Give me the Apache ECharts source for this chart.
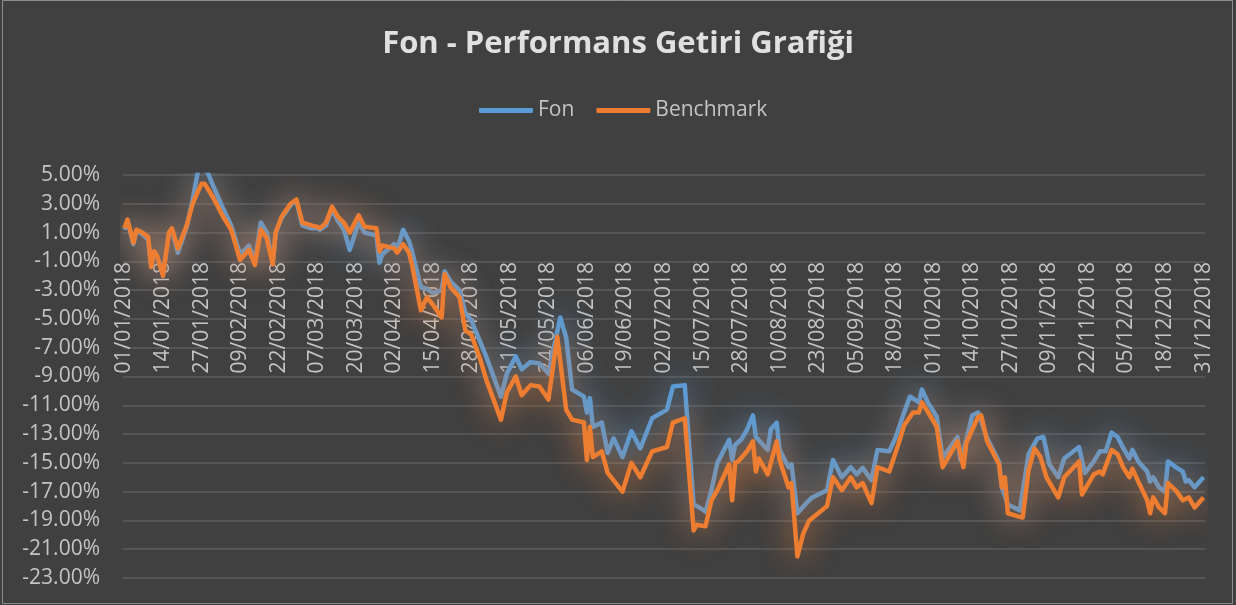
<!DOCTYPE html>
<html>
<head>
<meta charset="utf-8">
<script src="https://cdn.jsdelivr.net/npm/echarts@6/dist/echarts.min.js"></script>
<style>
html,body{margin:0;padding:0;background:#404040;}
#chart{width:1236px;height:605px;}
</style>
</head>
<body>
<div id="chart"></div>
<script>
// ---- data ----
const chartTitle = 'Fon - Performans Getiri Grafiği';
const seriesNames = ['Fon', 'Benchmark'];
// y-axis ticks (percent)
const yMin = -23, yMax = 5, yStep = 2;
// day-of-year index (0 = 01/01/2018) for each read point
const fonDays = [0,1,3,4,6,8,9,10,11,13,15,16,18,21,23,25,28,30,33,36,39,42,44,46,48,50,51,53,56,58,60,63,65,66,68,70,72,74,76,79,81,85,86,87,91,92,94,96,97,100,102,104,107,108,110,113,115,117,120,122,127,129,132,134,137,140,143,147,149,151,155,156,157,158,161,163,165,168,171,174,178,183,185,189,192,194,196,198,200,204,205,206,208,210,212,213,217,218,220,221,224,225,227,230,232,237,239,242,245,247,249,252,254,258,260,263,265,268,269,271,274,276,281,282,284,286,288,291,295,296,298,302,305,308,310,312,315,317,322,324,327,329,331,333,335,337,339,340,342,345,346,347,349,351,352,355,357,358,359,361,364];
const fonValues = [1.2,1.8,0.2,1.1,0.9,0.5,-1.3,-0.4,-0.7,-1.8,0.9,1.2,-0.4,1.4,3.3,5.5,5.2,4.2,2.8,1.5,-0.5,0.1,-1.0,1.7,1.0,-1.1,1.0,2.0,2.9,3.2,1.5,1.3,1.3,1.2,1.5,2.6,1.8,1.2,-0.2,1.7,1.0,0.8,-1.1,-0.5,0.2,-0.2,1.2,0.4,-0.3,-2.8,-2.9,-3.2,-3.0,-1.7,-2.4,-3.0,-4.6,-5.1,-6.6,-7.6,-10.4,-8.8,-7.6,-8.5,-8.0,-8.1,-8.8,-4.9,-6.3,-9.9,-10.4,-11.5,-10.5,-12.5,-12.2,-14.3,-13.3,-14.6,-12.8,-14.0,-11.9,-11.3,-9.7,-9.6,-17.9,-18.1,-18.4,-16.9,-15.0,-13.4,-14.8,-13.75,-13.4,-12.7,-11.7,-13.2,-14.1,-12.7,-12.2,-14.1,-15.3,-15.1,-18.5,-17.8,-17.4,-16.9,-14.8,-16.0,-15.3,-15.8,-15.35,-16.2,-14.1,-14.2,-13.3,-11.5,-10.4,-10.8,-9.9,-10.8,-11.8,-14.65,-13.2,-14.8,-13.4,-11.7,-11.5,-13.3,-14.9,-16.7,-17.9,-18.3,-14.4,-13.3,-13.2,-15.1,-16.0,-14.7,-13.9,-15.7,-14.9,-14.2,-14.2,-12.9,-13.2,-14.0,-14.7,-14.1,-14.9,-15.6,-16.3,-16.0,-16.7,-17.0,-14.9,-15.35,-15.6,-16.3,-16.2,-16.7,-16.0];
const benchDays = [0,1,3,4,6,8,9,10,11,13,15,16,18,21,23,24,26,27,30,33,36,39,42,44,46,48,50,51,53,56,58,60,63,65,66,68,70,72,74,76,79,81,85,86,87,91,92,94,96,97,100,102,104,107,108,110,113,115,117,120,122,127,129,132,134,137,140,143,146,149,151,155,156,157,158,161,163,168,171,174,178,183,185,189,192,193,196,198,200,204,205,206,207,210,212,213,214,217,220,221,224,225,227,229,231,237,239,242,245,247,249,252,254,258,261,263,266,268,269,272,274,276,281,283,284,288,289,291,295,296,297,298,302,303,305,307,309,311,315,317,322,323,325,327,329,330,333,335,337,339,340,342,345,346,347,349,351,352,355,357,359,361,364];
const benchValues = [1.3,1.9,0.3,1.2,1.0,0.7,-1.4,-0.3,-0.6,-2.0,1.0,1.3,-0.1,1.5,3.0,3.5,4.4,4.4,3.4,2.2,1.2,-0.9,-0.2,-1.25,1.2,0.6,-1.2,1.0,2.1,3.0,3.3,1.7,1.5,1.4,1.3,1.7,2.8,2.1,1.7,1.0,2.2,1.4,1.3,-0.3,0.1,-0.1,-0.4,0.2,-0.4,-1.25,-4.4,-3.5,-4.0,-4.9,-1.9,-2.8,-3.5,-5.8,-6.1,-7.8,-9.2,-12.0,-10.1,-9.0,-10.3,-9.6,-9.7,-10.6,-6.25,-11.3,-12.0,-12.2,-14.8,-12.5,-14.6,-14.2,-15.7,-17.0,-15.0,-16.0,-14.2,-13.9,-12.2,-11.9,-19.7,-19.3,-19.4,-17.6,-16.9,-15.1,-17.6,-15.0,-14.9,-14.2,-13.5,-15.6,-14.7,-15.8,-13.5,-14.8,-16.7,-16.4,-21.5,-19.9,-19.0,-18.0,-16.0,-16.9,-16.0,-16.7,-16.4,-17.8,-15.3,-15.6,-13.75,-12.4,-11.5,-11.5,-10.8,-11.8,-12.5,-15.3,-13.5,-15.3,-13.6,-11.8,-11.7,-13.5,-15.1,-16.7,-16.0,-18.5,-18.75,-18.8,-15.5,-14.0,-14.6,-16.0,-17.4,-16.0,-14.9,-17.2,-16.5,-15.8,-15.6,-15.8,-14.1,-14.4,-15.35,-16.0,-15.4,-16.3,-17.6,-18.5,-17.4,-18.1,-18.5,-16.4,-17.0,-17.6,-17.4,-18.1,-17.4];

// categories: every day of 2018
const categories = [];
for (let i = 0; i < 365; i++) {
  const d = new Date(Date.UTC(2018, 0, 1) + i * 86400000);
  const dd = String(d.getUTCDate()).padStart(2, '0');
  const mm = String(d.getUTCMonth() + 1).padStart(2, '0');
  categories.push(dd + '/' + mm + '/' + d.getUTCFullYear());
}

const pair = (days, vals) => days.map((d, i) => [d, vals[i]]);

const FONT = '"Open Sans", sans-serif';
const chart = echarts.init(document.getElementById('chart'), null, {renderer: 'canvas'});
chart.setOption({
  animation: false,
  backgroundColor: '#404040',
  title: {
    text: chartTitle,
    left: 'center',
    top: 24,
    textStyle: {color: '#e0e0e0', fontSize: 31, fontWeight: 'bold', fontFamily: FONT}
  },
  legend: {
    data: seriesNames,
    top: 95,
    left: 474,
    icon: 'roundRect',
    itemWidth: 54,
    itemHeight: 5,
    itemGap: 22,
    textStyle: {color: '#c4c4c4', fontSize: 21, fontFamily: FONT}
  },
  grid: {left: 123, right: 31, top: 175, bottom: 27, containLabel: false, outerBoundsMode: 'none'},
  xAxis: {
    type: 'category',
    data: categories,
    boundaryGap: true,
    axisLine: {show: false, onZero: false},
    axisTick: {show: false},
    axisLabel: {
      interval: 12,
      rotate: 90,
      margin: -316,
      color: '#c4c4c4',
      fontSize: 21,
      fontFamily: FONT
    },
    splitLine: {show: false}
  },
  yAxis: {
    type: 'value',
    min: yMin,
    max: yMax,
    interval: yStep,
    axisLine: {show: false},
    axisTick: {show: false},
    axisLabel: {
      margin: 23,
      color: '#c4c4c4',
      fontSize: 21,
      fontFamily: FONT,
      formatter: v => v.toFixed(2) + '%'
    },
    splitLine: {lineStyle: {color: '#5c5c5c', width: 1.5}}
  },
  series: [
    {
      name: seriesNames[0],
      type: 'line',
      data: pair(fonDays, fonValues),
      showSymbol: false,
      symbol: 'none',
      color: '#5B9BD5',
      lineStyle: {width: 4.5, color: '#5B9BD5', shadowBlur: 30, shadowColor: 'rgba(91,155,213,1)', join: 'round'}
    },
    {
      name: seriesNames[1],
      type: 'line',
      data: pair(benchDays, benchValues),
      showSymbol: false,
      symbol: 'none',
      color: '#ED7D31',
      lineStyle: {width: 4.5, color: '#ED7D31', shadowBlur: 30, shadowColor: 'rgba(237,125,49,1)', join: 'round'}
    }
  ],
  graphic: [{
    type: 'rect',
    shape: {x: 2.5, y: 0.5, width: 1230, height: 603},
    style: {fill: null, stroke: '#8c8c8c', lineWidth: 1},
    silent: true
  }]
});
</script>
</body>
</html>
